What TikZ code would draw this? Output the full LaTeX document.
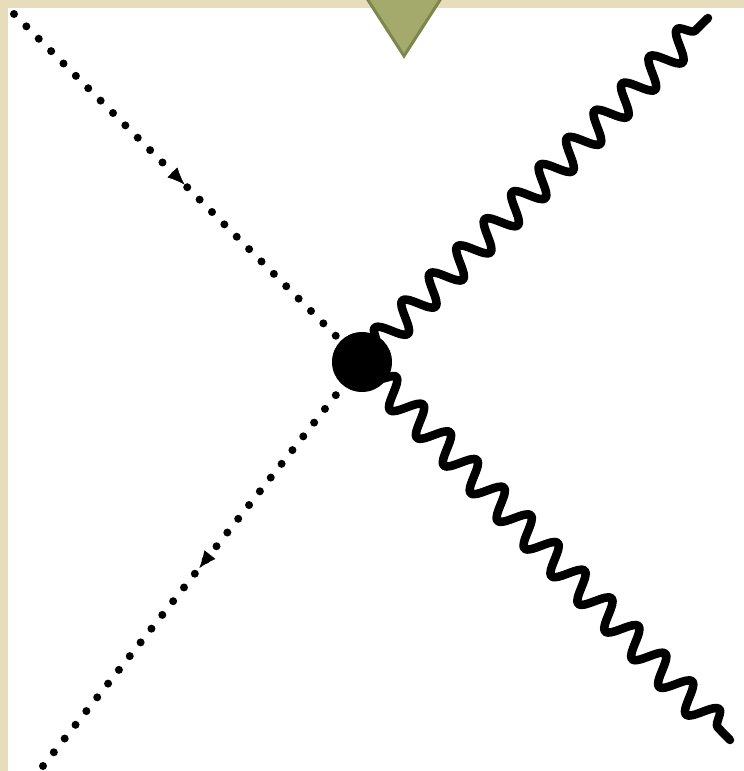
\documentclass[tikz,border=0pt]{standalone}
\usetikzlibrary{decorations.pathmorphing,decorations.markings,arrows.meta}
\definecolor{beige}{HTML}{E8DDBA}
\definecolor{olivefill}{HTML}{A3AA6B}
\definecolor{olivedraw}{HTML}{7E8650}
\tikzset{
  fermion/.style={line width=8pt, line cap=round, dash pattern=on 0pt off 17.5pt},
  photon/.style={line width=8.5pt, line join=round, line cap=round,
    decorate, decoration={snake, segment length=38.6pt, amplitude=14pt, pre length=0pt, post length=0pt}},
  midarrow/.style={decoration={markings, mark=at position #1 with {\arrow{Latex[length=17pt,width=14pt]}}}, postaction={decorate}},
  vertexdot/.style={circle, fill=black, inner sep=0pt, minimum size=60pt},
  marker/.style={olivedraw, fill=olivefill, line width=3pt},
}
\begin{document}
\begin{tikzpicture}[x=1pt,y=-1pt]
\useasboundingbox (0,0) rectangle (744,771);
\fill[beige] (0,0) rectangle (744,771);
\fill[white] (8,8) rectangle (744,771);
% triangle marker
\filldraw[marker] (366,-3) -- (442,-3) -- (404,56) -- cycle;
% vertex
\coordinate (v) at (362,362);
\coordinate (a) at (14,14);
\coordinate (b) at (43,766);
\coordinate (c) at (708,18);
\coordinate (d) at (730,740);
\draw[fermion] (a) -- (v);
\draw[fermion] (b) -- (v);
\path[midarrow=0.49] (a) -- (v);
\path[midarrow=0.51] (v) -- (b);
\draw[photon] (v) ++(14,-16) -- (c);
\draw[photon] (v) ++(16,16) -- (d);
\node[vertexdot] (vx) at (v) {};
\end{tikzpicture}
\end{document}
